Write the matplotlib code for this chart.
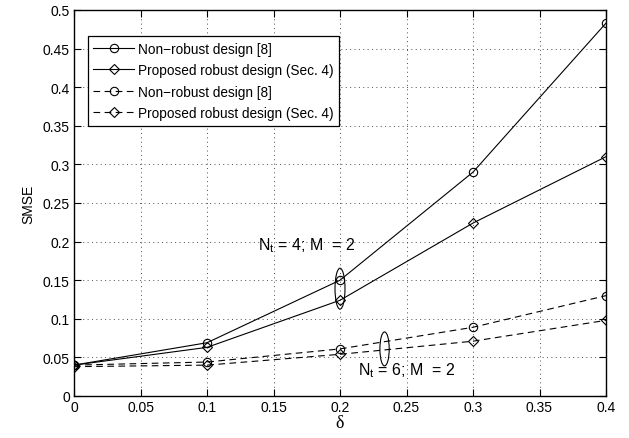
import numpy as np
import matplotlib
matplotlib.use("Agg")
import matplotlib.pyplot as plt
from matplotlib.patches import Ellipse

plt.rcParams['font.family'] = ['Liberation Sans', 'DejaVu Sans']
plt.rcParams['mathtext.default'] = 'regular'

# delta values
delta = [0, 0.1, 0.2, 0.3, 0.4]
# N_t = 4; M = 2
nonrobust_4 = [0.040, 0.069, 0.150, 0.290, 0.483]
robust_4 = [0.040, 0.063, 0.124, 0.224, 0.310]
# N_t = 6; M = 2
nonrobust_6 = [0.040, 0.044, 0.061, 0.089, 0.130]
robust_6 = [0.038, 0.040, 0.054, 0.071, 0.098]

labels = ['Non\u2212robust design [8]', 'Proposed robust design (Sec. 4)',
          'Non\u2212robust design [8]', 'Proposed robust design (Sec. 4)']

xticks = np.arange(0, 0.4001, 0.05)
yticks = np.arange(0, 0.5001, 0.05)

fs = 10

fig = plt.figure(figsize=(6.29, 4.39), dpi=100)
ax = fig.add_axes([74 / 629, 1 - 397 / 439, 532 / 629, 386 / 439])

kw = dict(color='k', lw=0.8, markerfacecolor='none', markeredgecolor='k', markeredgewidth=0.8)
ax.plot(delta, nonrobust_4, '-', marker='o', ms=6, label=labels[0], **kw)
ax.plot(delta, robust_4, '-', marker='D', ms=5, label=labels[1], **kw)
ax.plot(delta, nonrobust_6, '--', marker='o', ms=6, label=labels[2], dashes=(6, 4), **kw)
ax.plot(delta, robust_6, '--', marker='D', ms=5, label=labels[3], dashes=(6, 4), **kw)

# ellipses around the groups
ax.add_patch(Ellipse((0.2, 0.139), 0.0075, 0.053, fill=False, ec='k', lw=0.8))
ax.add_patch(Ellipse((0.2335, 0.061), 0.007, 0.044, fill=False, ec='k', lw=0.8))

ax.text(0.138, 0.196, 'N$_t$ = 4; M  = 2', fontsize=11.5, va='center', ha='left')
ax.text(0.2135, 0.034, 'N$_t$ = 6; M  = 2', fontsize=11.5, va='center', ha='left')

ax.set_xlim(0, 0.4)
ax.set_ylim(0, 0.5)
ax.set_xticks(xticks)
ax.set_yticks(yticks)
ax.set_xticklabels(['%g' % round(v, 2) for v in xticks])
ax.set_yticklabels(['%g' % round(v, 2) for v in yticks])
ax.tick_params(direction='in', top=True, right=True, length=5, width=0.8, labelsize=fs, pad=3)
ax.grid(True, ls=(0, (1, 3.5)), color='0.3', lw=0.7)
for s in ax.spines.values():
    s.set_linewidth(1.0)

ax.set_xlabel('\u03b4', fontsize=13, family=['Liberation Serif', 'DejaVu Serif'], labelpad=0)
ax.set_ylabel('SMSE', fontsize=fs, labelpad=5)

leg = ax.legend(loc='upper left', bbox_to_anchor=(0.026, 0.932), fontsize=9.8, frameon=True,
                fancybox=False, edgecolor='k', framealpha=1, handlelength=3.0,
                borderpad=0.4, labelspacing=0.55, handletextpad=0.25, borderaxespad=0)
leg.get_frame().set_linewidth(0.9)

fig.savefig('out.png', dpi=100)
